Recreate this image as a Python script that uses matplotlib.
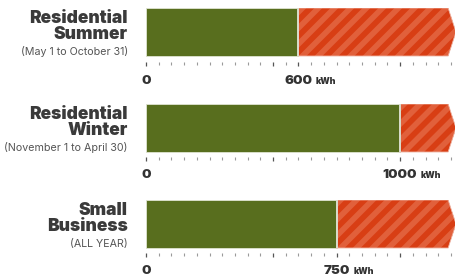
import numpy as np
import matplotlib
matplotlib.use("Agg")
import matplotlib.pyplot as plt
from matplotlib.patches import Polygon, Rectangle

# ---- data ----
titles = ["Residential\nSummer", "Residential\nWinter", "Small\nBusiness"]
subtitles = ["(May 1 to October 31)", "(November 1 to April 30)", "(ALL YEAR)"]
baseline_kwh = [600, 1000, 750]
scale_max_kwh = 1220          # arrow tip (scale continues beyond the picture)
tick_step_kwh = 50
major_step_kwh = 500
unit = "kWh"

# ---- style ----
W, H = 456, 275
DPI = 100
GREEN = "#586e1e"
RED = "#d83e14"
STRIPE = "#e1603b"
FONT = "Inter"

fig = plt.figure(figsize=(W / DPI, H / DPI), dpi=DPI)
fig.patch.set_facecolor("white")
renderer = fig.canvas.get_renderer()

left_px, right_px = 146, 456
bar_h_px = 48
panel_top_px = [8, 104, 200]
tick_gap_px = [6, 4.6, 4.6]
label_base_px = [75.5, 74, 73.5]
px_per_kwh = (right_px - left_px) / scale_max_kwh
stripe_period_px = 16.0
stripe_width_px = 8.0


def fy(px):
    return 1 - px / H


for i, (title, sub, base) in enumerate(zip(titles, subtitles, baseline_kwh)):
    top = panel_top_px[i]
    gap = tick_gap_px[i]
    ax_h = bar_h_px + gap
    ax = fig.add_axes([left_px / W, fy(top + ax_h), (right_px - left_px) / W, ax_h / H])
    ax.set_xlim(0, scale_max_kwh)
    ax.set_ylim(-gap, bar_h_px)
    for s in ax.spines.values():
        s.set_visible(False)
    ax.set_yticks([])

    # green part
    ax.add_patch(Rectangle((0, 0), base, bar_h_px, facecolor=GREEN,
                           edgecolor="#dfe4d2", linewidth=0.6, zorder=2))
    # red arrow part
    arrow_len = 31
    pts = [(base, 0), (scale_max_kwh - arrow_len, 0), (scale_max_kwh, bar_h_px / 2),
           (scale_max_kwh - arrow_len, bar_h_px), (base, bar_h_px)]
    red = Polygon(pts, closed=True, facecolor=RED, edgecolor="none", zorder=2)
    ax.add_patch(red)
    # diagonal stripes clipped to the arrow
    per = stripe_period_px / px_per_kwh
    wid = stripe_width_px / px_per_kwh
    shift = bar_h_px / px_per_kwh
    s0 = base - shift - per
    while s0 < scale_max_kwh + per:
        st = Polygon([(s0, 0), (s0 + wid, 0), (s0 + wid + shift, bar_h_px),
                      (s0 + shift, bar_h_px)], closed=True, facecolor=STRIPE,
                     edgecolor="none", zorder=3)
        ax.add_patch(st)
        st.set_clip_path(red)
        s0 += per
    ax.add_patch(Polygon(pts, closed=True, facecolor="none", edgecolor="#eeb3a2",
                         linewidth=0.6, zorder=4))
    ax.plot([base, base], [0, bar_h_px], color="#d9ddcc", linewidth=1.4, zorder=5,
            solid_capstyle="butt")

    # ticks
    minor = np.arange(0, scale_max_kwh, tick_step_kwh)
    major = sorted(set([0, base] + list(np.arange(0, scale_max_kwh, major_step_kwh))))
    ax.set_xticks(major)
    ax.set_xticks([m for m in minor if m not in major], minor=True)
    ax.set_xticklabels([])
    ax.tick_params(axis="x", which="major", length=3.2, width=0.9, color="#555555",
                   direction="out")
    ax.tick_params(axis="x", which="minor", length=2.0, width=0.8, color="#9a9a9a",
                   direction="out")

    # tick labels
    yb = fy(top + label_base_px[i])
    for v in (0, base):
        t = fig.text((left_px + v * px_per_kwh) / W, yb, f"{v}", ha="center",
                     va="baseline", fontsize=9.6, fontweight="black", family=FONT,
                     color="#333333")
    bb = t.get_window_extent(renderer)
    fig.text((bb.x1 + 3.5) / W, yb, unit, ha="left", va="baseline", fontsize=6.3,
             fontweight="black", family=FONT, color="#333333")

    # left labels
    l1, l2 = title.split("\n")
    fig.text(128 / W, fy(top + 14.7), l1, ha="right", va="baseline", fontsize=12.5,
             fontweight="black", family=FONT, color="#3a3a3a")
    fig.text(128 / W, fy(top + 31), l2, ha="right", va="baseline", fontsize=12.5,
             fontweight="black", family=FONT, color="#3a3a3a")
    fig.text(128 / W, fy(top + 47), sub, ha="right", va="baseline", fontsize=7.7,
             family=FONT, color="#555555")

fig.savefig("out.png", dpi=DPI)
